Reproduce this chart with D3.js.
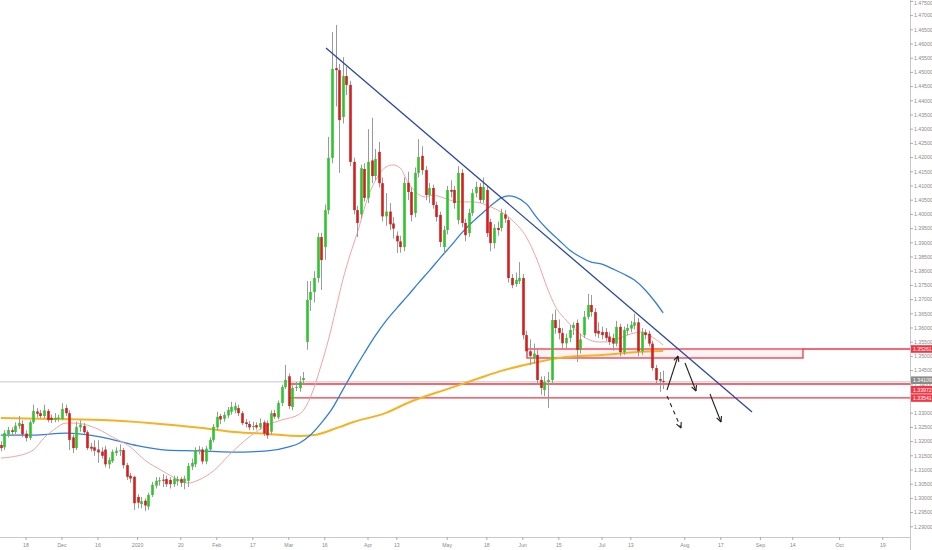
<!DOCTYPE html>
<html><head><meta charset="utf-8">
<script src="https://cdn.jsdelivr.net/npm/d3@7"></script>
<style>
html,body{margin:0;padding:0;background:#fff;}
svg{display:block;font-family:"Liberation Sans",Arial,sans-serif;}
</style></head><body>
<svg id="chart" width="932" height="550"></svg>
<script>
// ---- DATA (USD/CAD daily, bar 0 = 18 Nov 2019) ----
const firstBar = -7;
const opens = [
1.3188,1.3180,1.3225,1.3240,1.3234,1.3255,1.3262,1.3228,1.3213,1.3268,
1.3306,1.3300,1.3290,1.3308,1.3284,1.3276,1.3280,1.3280,1.3318,1.3300,
1.3215,1.3177,1.3250,1.3255,1.3233,1.3182,1.3180,1.3172,1.3165,1.3172,
1.3120,1.3131,1.3160,1.3166,1.3170,1.3117,1.3080,1.3076,1.3005,1.2980,
1.2992,1.2971,1.3012,1.3045,1.3060,1.3066,1.3068,1.3065,1.3050,1.3060,
1.3068,1.3055,1.3062,1.3112,1.3120,1.3168,1.3172,1.3130,1.3172,1.3206,
1.3250,1.3290,1.3280,1.3292,1.3305,1.3310,1.3318,1.3300,1.3268,1.3262,
1.3252,1.3258,1.3250,1.3268,1.3265,1.3235,1.3300,1.3285,1.3336,1.3392,
1.3430,1.3322,1.3389,1.3388,1.3417,1.3551,1.3699,1.3727,1.3776,1.3920,
1.3885,1.4015,1.4199,1.4515,1.4508,1.4343,1.4487,1.4456,1.4185,1.4015,
1.4000,1.4160,1.4058,1.4190,1.4135,1.4220,1.4110,1.3993,1.4010,1.3968,
1.3925,1.3905,1.3885,1.4111,1.4079,1.4005,1.4146,1.4206,1.4156,1.4068,
1.4093,1.4033,1.3998,1.3885,1.3945,1.4086,1.4086,1.3980,1.4146,1.3970,
1.3934,1.4005,1.4075,1.4097,1.4051,1.4086,1.3973,1.3899,1.3952,1.3952,
1.4000,1.3980,1.3776,1.3755,1.3765,1.3776,1.3575,1.3518,1.3495,1.3505,
1.3417,1.3382,1.3410,1.3417,1.3628,1.3600,1.3582,1.3546,1.3565,1.3600,
1.3618,1.3523,1.3575,1.3639,1.3681,1.3656,1.3590,1.3586,1.3586,1.3570,
1.3565,1.3545,1.3604,1.3515,1.3590,1.3598,1.3608,1.3620,1.3518,1.3585,
1.3580,1.3545,1.3459,1.3420,1.3413];
const highs = [
1.3201,1.3240,1.3252,1.3250,1.3268,1.3290,1.3275,1.3240,1.3275,1.3330,
1.3318,1.3312,1.3330,1.3315,1.3295,1.3300,1.3295,1.3335,1.3330,1.3310,
1.3225,1.3270,1.3275,1.3265,1.3240,1.3195,1.3205,1.3205,1.3180,1.3185,
1.3145,1.3172,1.3180,1.3190,1.3178,1.3125,1.3090,1.3080,1.3015,1.3005,
1.3000,1.3020,1.3058,1.3075,1.3075,1.3085,1.3080,1.3075,1.3080,1.3078,
1.3075,1.3080,1.3125,1.3140,1.3180,1.3185,1.3180,1.3185,1.3215,1.3262,
1.3305,1.3298,1.3305,1.3322,1.3340,1.3338,1.3330,1.3308,1.3280,1.3272,
1.3270,1.3268,1.3282,1.3275,1.3275,1.3310,1.3312,1.3345,1.3400,1.3470,
1.3440,1.3398,1.3410,1.3430,1.3445,1.3765,1.3765,1.3800,1.3935,1.3935,
1.4035,1.4273,1.4642,1.4667,1.4530,1.4554,1.4520,1.4470,1.4200,1.4030,
1.4175,1.4180,1.4300,1.4340,1.4230,1.4255,1.4130,1.4075,1.4040,1.3990,
1.3940,1.3925,1.4130,1.4150,1.4095,1.4165,1.4265,1.4240,1.4170,1.4110,
1.4105,1.4045,1.4010,1.3960,1.4100,1.4120,1.4100,1.4170,1.4160,1.3985,
1.4020,1.4090,1.4115,1.4110,1.4130,1.4100,1.3985,1.3965,1.3975,1.4020,
1.4015,1.3990,1.3790,1.3795,1.3832,1.3790,1.3590,1.3560,1.3545,1.3525,
1.3430,1.3430,1.3445,1.3650,1.3665,1.3630,1.3600,1.3580,1.3610,1.3620,
1.3630,1.3580,1.3660,1.3720,1.3716,1.3670,1.3620,1.3605,1.3600,1.3585,
1.3580,1.3625,1.3615,1.3605,1.3615,1.3625,1.3650,1.3635,1.3600,1.3595,
1.3590,1.3555,1.3470,1.3445,1.3450];
const lows = [
1.3166,1.3170,1.3215,1.3222,1.3226,1.3245,1.3215,1.3200,1.3205,1.3262,
1.3285,1.3282,1.3282,1.3268,1.3265,1.3268,1.3270,1.3275,1.3290,1.3170,
1.3160,1.3170,1.3235,1.3225,1.3170,1.3165,1.3150,1.3125,1.3140,1.3110,
1.3105,1.3125,1.3150,1.3150,1.3105,1.3065,1.3055,1.2959,1.2965,1.2965,
1.2955,1.2960,1.3005,1.3035,1.3045,1.3040,1.3040,1.3035,1.3040,1.3045,
1.3040,1.3032,1.3040,1.3100,1.3110,1.3155,1.3120,1.3120,1.3165,1.3198,
1.3240,1.3262,1.3270,1.3282,1.3295,1.3300,1.3290,1.3258,1.3250,1.3240,
1.3240,1.3242,1.3242,1.3220,1.3210,1.3225,1.3280,1.3278,1.3325,1.3385,
1.3315,1.3310,1.3378,1.3375,1.3405,1.3523,1.3660,1.3690,1.3760,1.3734,
1.3840,1.4000,1.4180,1.4380,1.4146,1.4320,1.4420,1.4170,1.4000,1.3920,
1.3985,1.4045,1.4040,1.4110,1.4120,1.4095,1.3975,1.3960,1.3945,1.3915,
1.3864,1.3865,1.3870,1.4050,1.3975,1.3990,1.4130,1.4140,1.4050,1.4040,
1.4020,1.3975,1.3885,1.3860,1.3930,1.4060,1.4020,1.3965,1.3955,1.3905,
1.3920,1.3995,1.4060,1.4040,1.4040,1.3920,1.3870,1.3880,1.3925,1.3940,
1.3970,1.3760,1.3740,1.3745,1.3755,1.3560,1.3500,1.3470,1.3475,1.3400,
1.3365,1.3360,1.3318,1.3400,1.3580,1.3560,1.3525,1.3530,1.3550,1.3575,
1.3480,1.3510,1.3565,1.3630,1.3640,1.3570,1.3565,1.3560,1.3555,1.3540,
1.3520,1.3535,1.3500,1.3505,1.3575,1.3585,1.3595,1.3500,1.3505,1.3560,
1.3535,1.3450,1.3405,1.3375,1.3385];
const closes = [
1.3177,1.3230,1.3241,1.3234,1.3256,1.3266,1.3225,1.3213,1.3268,1.3308,
1.3298,1.3290,1.3310,1.3276,1.3276,1.3284,1.3285,1.3315,1.3300,1.3206,
1.3177,1.3251,1.3260,1.3233,1.3177,1.3175,1.3168,1.3162,1.3150,1.3120,
1.3135,1.3164,1.3168,1.3170,1.3117,1.3076,1.3070,1.2983,1.2985,1.2990,
1.2975,1.3012,1.3048,1.3062,1.3064,1.3062,1.3050,1.3050,1.3070,1.3068,
1.3055,1.3070,1.3114,1.3125,1.3170,1.3172,1.3130,1.3175,1.3206,1.3252,
1.3287,1.3278,1.3294,1.3311,1.3322,1.3325,1.3300,1.3265,1.3262,1.3250,
1.3255,1.3250,1.3265,1.3228,1.3222,1.3300,1.3288,1.3336,1.3392,1.3417,
1.3325,1.3389,1.3392,1.3410,1.3424,1.3699,1.3727,1.3776,1.3920,1.3839,
1.4015,1.4199,1.4512,1.4508,1.4332,1.4487,1.4456,1.4185,1.4015,1.3970,
1.4163,1.4058,1.4185,1.4135,1.4195,1.4110,1.3993,1.4010,1.3965,1.3950,
1.3905,1.3885,1.4111,1.4079,1.3998,1.4146,1.4202,1.4156,1.4068,1.4093,
1.4033,1.3991,1.3903,1.3945,1.4086,1.4080,1.4040,1.4146,1.3970,1.3927,
1.4005,1.4075,1.4097,1.4051,1.4097,1.3934,1.3899,1.3952,1.3945,1.4005,
1.3985,1.3776,1.3751,1.3769,1.3776,1.3575,1.3518,1.3502,1.3510,1.3417,
1.3389,1.3410,1.3417,1.3628,1.3600,1.3582,1.3546,1.3565,1.3593,1.3611,
1.3523,1.3560,1.3639,1.3681,1.3656,1.3582,1.3580,1.3575,1.3565,1.3551,
1.3545,1.3604,1.3515,1.3593,1.3600,1.3611,1.3620,1.3518,1.3585,1.3575,
1.3545,1.3459,1.3417,1.3414,1.3411];

// moving averages: [bar, price]
const maFast = [[-7,1.3142],[-4,1.3146],[2,1.3170],[5,1.3213],[8,1.3244],[11,1.3265],[14,1.3265],[17,1.3258],[20,1.3244],[24,1.3216],[29,1.3181],[33,1.3135],[38,1.3096],[42,1.3068],[45,1.3054],[48,1.3065],[52,1.3096],[57,1.3160],[62,1.3216],[67,1.3258],[71,1.3276],[76,1.3297],[78,1.3329],[80,1.3389],[82,1.3470],[84,1.3558],[86,1.3663],[88,1.3769],[90,1.3857],[92,1.3934],[95,1.4061],[98,1.4139],[100,1.4167],[102,1.4174],[104,1.4163],[106,1.4114],[108,1.4082],[111,1.4061],[113,1.4068],[116,1.4058],[120,1.4044],[124,1.4044],[127,1.4037],[131,1.4015],[133,1.4001],[135,1.3980],[139,1.3920],[142,1.3839],[145,1.3734],[147,1.3677],[150,1.3628],[153,1.3589],[156,1.3561],[159,1.3551],[162,1.3551],[165,1.3565],[168,1.3579],[171,1.3586],[174,1.3568],[177,1.3540]];
const maMid = [[-7,1.3223],[2,1.3223],[11,1.3230],[21,1.3216],[30,1.3188],[39,1.3170],[48,1.3167],[57,1.3163],[67,1.3167],[73,1.3181],[76,1.3195],[79,1.3223],[82,1.3265],[85,1.3315],[88,1.3382],[91,1.3449],[94,1.3512],[97,1.3572],[100,1.3625],[103,1.3670],[106,1.3713],[109,1.3758],[112,1.3801],[115,1.3846],[118,1.3889],[121,1.3934],[124,1.3973],[127,1.4007],[130,1.4040],[132,1.4058],[134,1.4065],[136,1.4061],[139,1.4037],[142,1.3987],[145,1.3945],[148,1.3910],[151,1.3875],[154,1.3850],[157,1.3832],[160,1.3825],[163,1.3808],[166,1.3790],[169,1.3769],[172,1.3734],[175,1.3688],[177,1.3653]];
const maSlow = [[-7,1.3283],[0,1.3281],[7,1.3280],[21,1.3276],[35,1.3265],[49,1.3248],[58,1.3234],[67,1.3227],[76,1.3220],[80,1.3223],[87,1.3251],[91,1.3269],[100,1.3301],[106,1.3336],[118,1.3389],[126,1.3424],[132,1.3449],[141,1.3477],[150,1.3498],[160,1.3505],[169,1.3515],[177,1.3519]];

const xTickBars   = [0,10,20,31,43,53,63,73,83,95,103,117,128,138,148,160,168,183,193,204,213,226,238];
const xTickLabels = ["18","Dec","16","2020","20","Feb","17","Mar","16","Apr","13","May","18","Jun","15","Jul","13","Aug","17","Sep","14","Oct","19"];
const yTickValues = d3.range(1.290, 1.4751, 0.005);

// drawings (bar, price)
const trendLine = [[83.33,1.45859],[201.67,1.33042]];
const zone = {bar0:139.17, bar1:215.83, top:1.35261, bottom:1.34944};
const levels = [{bar0:73.33, price:1.34028},{bar0:73.33, price:1.33541}];
const lastPrice = 1.34109;
const priceLabels = [
  {text:"1.35261", price:1.35261, color:"#f23645", shift:0},
  {text:"1.34109", price:1.34109, color:"#8b8b8b", shift:-1.5},
  {text:"1.33972", price:1.33972, color:"#f23645", shift:4.2},
  {text:"1.33541", price:1.33541, color:"#f23645", shift:0.2}
];
const arrows = [
  {from:[178.06,1.33817], to:[181.11,1.35014], dashed:false},
  {from:[183.06,1.34768], to:[186.11,1.33782], dashed:false},
  {from:[190.00,1.33676], to:[193.06,1.32690], dashed:false},
  {from:[178.06,1.33606], to:[181.94,1.32479], dashed:true}
];

// ---- CHART ----
const W = 932, H = 550, plotW = 910, plotH = 537;
const svg = d3.select("#chart");
const x = d3.scaleLinear().domain([-7.2222, 245.5556]).range([0, plotW]);
const y = d3.scaleLinear().domain([1.286408, 1.475493]).range([plotH, 0]);

svg.append("rect").attr("width",W).attr("height",H).attr("fill","#fff");
svg.append("defs").append("clipPath").attr("id","clip")
  .append("rect").attr("width",plotW).attr("height",plotH);
const g = svg.append("g").attr("clip-path","url(#clip)");

// last price line
g.append("line").attr("x1",0).attr("x2",plotW)
  .attr("y1",y(lastPrice)).attr("y2",y(lastPrice))
  .attr("stroke","#d9d9d9").attr("stroke-width",1.5);

// zone rectangle
g.append("rect").attr("x",x(zone.bar0)).attr("y",y(zone.top))
  .attr("width",x(zone.bar1)-x(zone.bar0)).attr("height",y(zone.bottom)-y(zone.top))
  .attr("fill","rgba(242,54,69,0.06)").attr("stroke","#f23645").attr("stroke-width",1.3);
g.append("line").attr("x1",x(zone.bar1)).attr("x2",plotW)
  .attr("y1",y(zone.top)).attr("y2",y(zone.top)).attr("stroke","#f23645").attr("stroke-width",1.3);
levels.forEach(l=>{
  g.append("line").attr("x1",x(l.bar0)).attr("x2",plotW)
    .attr("y1",y(l.price)).attr("y2",y(l.price)).attr("stroke","#f23645").attr("stroke-width",1.3);
});

// moving averages
const line = d3.line().x(d=>x(d[0])).y(d=>y(d[1])).curve(d3.curveMonotoneX);
g.append("path").datum(maSlow).attr("d",line).attr("fill","none").attr("stroke","#f6b222").attr("stroke-width",2);
g.append("path").datum(maMid).attr("d",line).attr("fill","none").attr("stroke","#2f7fd8").attr("stroke-width",1.3);
g.append("path").datum(maFast).attr("d",line).attr("fill","none").attr("stroke","#f4a3a3").attr("stroke-width",1);

// candles
const bars = opens.map((o,k)=>({bar:firstBar+k, o, h:highs[k], l:lows[k], c:closes[k]}));
const bw = 2.6;
const cg = g.append("g");
cg.selectAll("line.wick").data(bars).join("line")
  .attr("x1",d=>Math.round(x(d.bar))+0.5).attr("x2",d=>Math.round(x(d.bar))+0.5)
  .attr("y1",d=>y(d.h)).attr("y2",d=>y(d.l))
  .attr("stroke","#9a9a9a").attr("stroke-width",1);
cg.selectAll("rect.body").data(bars).join("rect")
  .attr("x",d=>Math.round(x(d.bar))+0.5-bw/2)
  .attr("y",d=>y(Math.max(d.o,d.c)))
  .attr("width",bw)
  .attr("height",d=>Math.max(1,Math.abs(y(d.o)-y(d.c))))
  .attr("fill",d=>d.c>=d.o?"#2fc52f":"#d41f1f");

// trend line
g.append("line").attr("x1",x(trendLine[0][0])).attr("y1",y(trendLine[0][1]))
  .attr("x2",x(trendLine[1][0])).attr("y2",y(trendLine[1][1]))
  .attr("stroke","#2c47a3").attr("stroke-width",1.3);

// arrows
arrows.forEach(a=>{
  const x1=x(a.from[0]), y1=y(a.from[1]), x2=x(a.to[0]), y2=y(a.to[1]);
  g.append("line").attr("x1",x1).attr("y1",y1).attr("x2",x2).attr("y2",y2)
    .attr("stroke","#222").attr("stroke-width",1.1)
    .attr("stroke-dasharray",a.dashed?"4,4":null);
  const ang = Math.atan2(y2-y1,x2-x1), L=6, sp=0.45;
  [ang+Math.PI-sp, ang+Math.PI+sp].forEach(t=>{
    g.append("line").attr("x1",x2).attr("y1",y2)
      .attr("x2",x2+L*Math.cos(t)).attr("y2",y2+L*Math.sin(t))
      .attr("stroke","#222").attr("stroke-width",1.1);
  });
});

// axes
const fs = 5.2;
svg.append("line").attr("x1",0).attr("x2",plotW).attr("y1",plotH+0.5).attr("y2",plotH+0.5).attr("stroke","#c9c9c9");
svg.append("line").attr("x1",plotW+0.5).attr("x2",plotW+0.5).attr("y1",0).attr("y2",H).attr("stroke","#c9c9c9");
const yAx = svg.append("g");
yTickValues.forEach(v=>{
  const yy = y(v);
  yAx.append("line").attr("x1",plotW).attr("x2",plotW+3).attr("y1",yy).attr("y2",yy).attr("stroke","#aaa");
  yAx.append("text").attr("x",plotW+4).attr("y",Math.max(yy,3.5)).attr("dy","0.35em")
    .attr("font-size",fs).attr("fill","#8a8a8a").text(d3.format(".5f")(v));
});
const xAx = svg.append("g");
xTickBars.forEach((b,k)=>{
  const xx = x(b);
  xAx.append("line").attr("x1",xx).attr("x2",xx).attr("y1",plotH).attr("y2",plotH+3).attr("stroke","#aaa");
  xAx.append("text").attr("x",xx).attr("y",plotH+8).attr("dy","0.35em").attr("text-anchor","middle")
    .attr("font-size",fs).attr("fill","#8a8a8a").text(xTickLabels[k]);
});

// price labels on axis
priceLabels.forEach(p=>{
  const yy = y(p.price) + p.shift;
  svg.append("rect").attr("x",plotW+1).attr("y",yy-3.8).attr("width",W-plotW-1).attr("height",7.6).attr("fill",p.color);
  svg.append("text").attr("x",plotW+3).attr("y",yy).attr("dy","0.35em")
    .attr("font-size",fs).attr("fill","#fff").text(p.text);
});
</script>
</body></html>
